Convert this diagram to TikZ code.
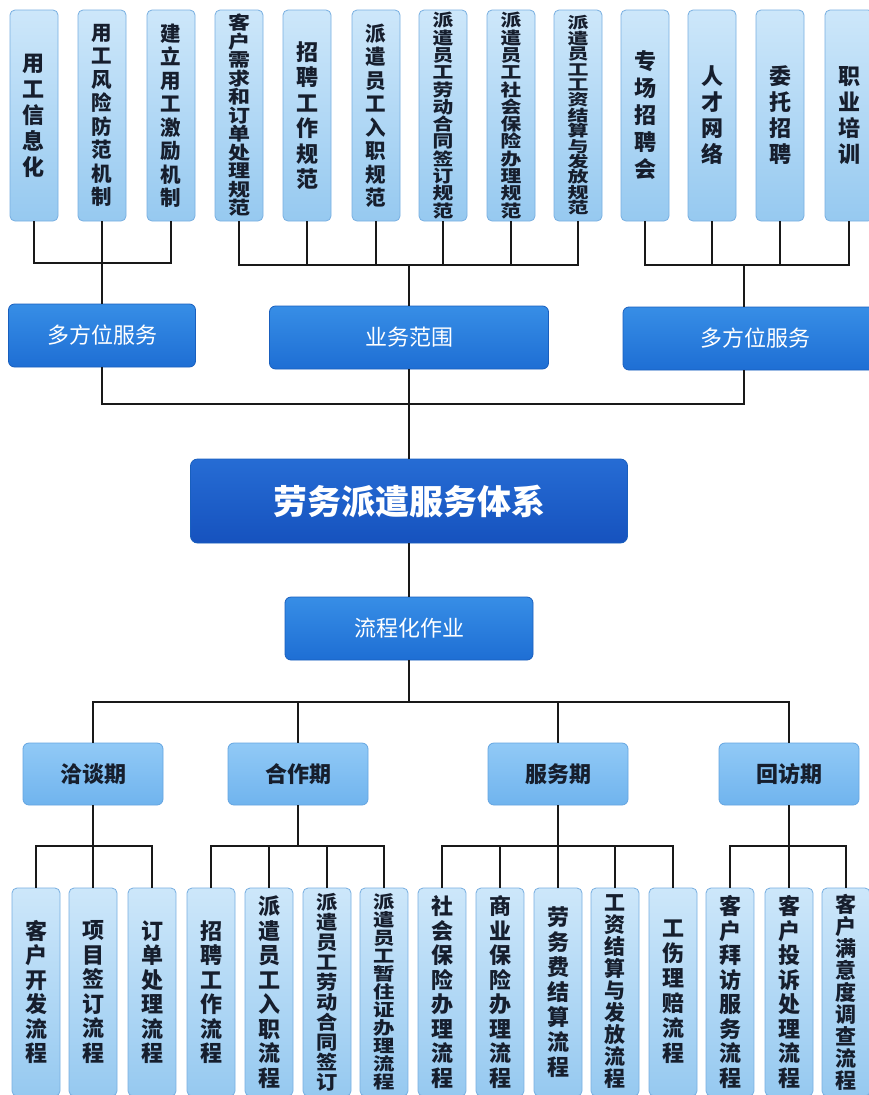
\documentclass[tikz,border=0pt]{standalone}
\usepackage{fontspec}
\setmainfont{Noto Sans CJK SC}
\newfontfamily\wcjkA[FakeStretch=1.12]{Noto Sans CJK SC}
\newfontfamily\wcjkB[FakeStretch=1.22]{Noto Sans CJK SC}
\newfontfamily\wcjkC[FakeStretch=1.35]{Noto Sans CJK SC}
\newcommand\vfs[2]{\bfseries\fontsize{#1}{#2}\selectfont}
\newcommand\wfs[3]{#1\bfseries\fontsize{#2}{#3}\selectfont}
\newcommand\rfs[2]{\fontsize{#1}{#2}\selectfont}
\definecolor{vtop}{RGB}{205,231,250}
\definecolor{vbot}{RGB}{150,201,240}
\definecolor{vborder}{RGB}{120,175,225}
\definecolor{vtext}{RGB}{22,30,45}
\definecolor{midtop}{RGB}{55,142,230}
\definecolor{midbot}{RGB}{30,110,212}
\definecolor{middraw}{RGB}{25,95,190}
\definecolor{maintop}{RGB}{38,108,212}
\definecolor{mainbot}{RGB}{22,82,190}
\definecolor{phtop}{RGB}{145,201,246}
\definecolor{phbot}{RGB}{112,180,238}
\definecolor{phdraw}{RGB}{100,165,225}
\definecolor{linec}{RGB}{25,25,25}
\tikzset{
  vbox/.style={draw=vborder, line width=0.8pt, rounded corners=5pt, top color=vtop, bottom color=vbot,
    minimum width=48pt, inner sep=0pt, align=center, text=vtext},
  topbox/.style={vbox, minimum height=211pt},
  botbox/.style={vbox, minimum height=208pt},
  midbox/.style={draw=middraw, line width=0.8pt, rounded corners=6pt, top color=midtop, bottom color=midbot,
    minimum height=63pt, inner sep=0pt, text=white, font=\rfs{22}{26}},
  mainbox/.style={draw=middraw, line width=0.8pt, rounded corners=7pt, top color=maintop, bottom color=mainbot,
    minimum height=84pt, minimum width=437pt, inner sep=0pt, text=white, font=\vfs{34}{40}},
  phbox/.style={draw=phdraw, line width=0.8pt, rounded corners=6pt, top color=phtop, bottom color=phbot,
    minimum height=62pt, minimum width=140pt, inner sep=0pt, text=vtext, font=\vfs{22}{26}},
  conn/.style={draw=linec, line width=1.8pt}
}
\begin{document}
\begin{tikzpicture}[x=1pt,y=-1pt]
\useasboundingbox (0,0) rectangle (869,1095);
\fill[white] (0,0) rectangle (869,1095);
\clip (0,0) rectangle (869,1095);
% top row
\node[topbox, font=\vfs{22}{26}] (t1) at (34,115.5) {用\\工\\信\\息\\化};
\node[topbox, font=\vfs{20.5}{23.5}] (t2) at (102,115.5) {用\\工\\风\\险\\防\\范\\机\\制};
\node[topbox, font=\vfs{20.5}{23.5}] (t3) at (171,115.5) {建\\立\\用\\工\\激\\励\\机\\制};
\node[topbox, font=\wfs{\wcjkB}{18}{18.5}] (t4) at (239,115.5) {客\\户\\需\\求\\和\\订\\单\\处\\理\\规\\范};
\node[topbox, font=\vfs{22}{25.5}] (t5) at (307,115.5) {招\\聘\\工\\作\\规\\范};
\node[topbox, font=\vfs{20.5}{23.5}] (t6) at (376,115.5) {派\\遣\\员\\工\\入\\职\\规\\范};
\node[topbox, font=\wfs{\wcjkB}{17}{17.3}] (t7) at (443,115.5) {派\\遣\\员\\工\\劳\\动\\合\\同\\签\\订\\规\\范};
\node[topbox, font=\wfs{\wcjkB}{17}{17.3}] (t8) at (511,115.5) {派\\遣\\员\\工\\社\\会\\保\\险\\办\\理\\规\\范};
\node[topbox, font=\wfs{\wcjkC}{15.5}{15.4}] (t9) at (578,115.5) {派\\遣\\员\\工\\工\\资\\结\\算\\与\\发\\放\\规\\范};
\node[topbox, font=\vfs{22}{27}] (t10) at (645,115.5) {专\\场\\招\\聘\\会};
\node[topbox, font=\vfs{22}{26}] (t11) at (712,115.5) {人\\才\\网\\络};
\node[topbox, font=\vfs{22}{26}] (t12) at (780,115.5) {委\\托\\招\\聘};
\node[topbox, font=\vfs{22}{26}] (t13) at (849,115.5) {职\\业\\培\\训};
% middle
\node[midbox, minimum width=187pt] (m1) at (102,335.5) {多方位服务};
\node[midbox, minimum width=279pt] (m2) at (409,337.5) {业务范围};
\node[midbox, minimum width=264pt] (m3) at (755,338.5) {多方位服务};
\node[mainbox] (main) at (409,501) {劳务派遣服务体系};
\node[midbox, minimum width=248pt] (flow) at (409,628.5) {流程化作业};
% phases
\node[phbox] (p1) at (93,774) {洽谈期};
\node[phbox] (p2) at (298,774) {合作期};
\node[phbox] (p3) at (558,774) {服务期};
\node[phbox] (p4) at (789,774) {回访期};
% bottom row
\node[botbox, font=\vfs{22}{24.5}] (b1) at (36,992) {客\\户\\开\\发\\流\\程};
\node[botbox, font=\vfs{22}{24.5}] (b2) at (93,992) {项\\目\\签\\订\\流\\程};
\node[botbox, font=\vfs{22}{24.5}] (b3) at (152,992) {订\\单\\处\\理\\流\\程};
\node[botbox, font=\vfs{22}{24.5}] (b4) at (211,992) {招\\聘\\工\\作\\流\\程};
\node[botbox, font=\vfs{22}{24.5}] (b5) at (269,992) {派\\遣\\员\\工\\入\\职\\流\\程};
\node[botbox, font=\wfs{\wcjkA}{19}{20}] (b6) at (327,992) {派\\遣\\员\\工\\劳\\动\\合\\同\\签\\订};
\node[botbox, font=\wfs{\wcjkB}{17.5}{18}] (b7) at (384,992) {派\\遣\\员\\工\\暂\\住\\证\\办\\理\\流\\程};
\node[botbox, font=\vfs{22}{24.5}] (b8) at (442,992) {社\\会\\保\\险\\办\\理\\流\\程};
\node[botbox, font=\vfs{22}{24.5}] (b9) at (500,992) {商\\业\\保\\险\\办\\理\\流\\程};
\node[botbox, font=\vfs{22}{25}] (b10) at (558,992) {劳\\务\\费\\结\\算\\流\\程};
\node[botbox, font=\vfs{21}{22}] (b11) at (615,992) {工\\资\\结\\算\\与\\发\\放\\流\\程};
\node[botbox, font=\vfs{22}{25}] (b12) at (673,992) {工\\伤\\理\\赔\\流\\程};
\node[botbox, font=\vfs{22}{24.5}] (b13) at (730,992) {客\\户\\拜\\访\\服\\务\\流\\程};
\node[botbox, font=\vfs{22}{24.5}] (b14) at (789,992) {客\\户\\投\\诉\\处\\理\\流\\程};
\node[botbox, font=\vfs{21}{22}] (b15) at (846,992) {客\\户\\满\\意\\度\\调\\查\\流\\程};
% junction points
\coordinate (g1) at (102,263);
\coordinate (g2) at (409,265);
\coordinate (g3) at (744,265);
\coordinate (g4) at (409,404);
\coordinate (g5) at (409,702);
\coordinate (h1) at (93,846);
\coordinate (h2) at (298,846);
\coordinate (h3) at (558,846);
\coordinate (h4) at (789,846);
% top connectors
\draw[conn] (t1.south) |- (g1) -| (t3.south);
\draw[conn] (t2.south) -- (g1) -- (m1.north);
\draw[conn] (t4.south) |- (g2) -| (t9.south);
\foreach \n in {t5,t6,t7,t8} \draw[conn] (\n.south) -- (\n.south |- g2);
\draw[conn] (g2) -- (m2.north);
\draw[conn] (t10.south) |- (g3) -| (t13.south);
\foreach \n in {t11,t12} \draw[conn] (\n.south) -- (\n.south |- g3);
\draw[conn] (g3) -- (g3 |- m3.north);
% middle connectors
\draw[conn] (m1.south) |- (g4) -| (m3.south -| g3);
\draw[conn] (m2.south) -- (main.north);
\draw[conn] (main.south) -- (flow.north);
\draw[conn] (flow.south) -- (g5);
\draw[conn] (p1.north) |- (g5) -| (p4.north);
\foreach \n in {p2,p3} \draw[conn] (\n.north) -- (\n.north |- g5);
% bottom connectors
\draw[conn] (p1.south) -- (h1);
\draw[conn] (b1.north) |- (h1) -| (b3.north);
\draw[conn] (b2.north) -- (h1);
\draw[conn] (p2.south) -- (h2);
\draw[conn] (b4.north) |- (h2) -| (b7.north);
\foreach \n in {b5,b6} \draw[conn] (\n.north) -- (\n.north |- h2);
\draw[conn] (p3.south) -- (h3);
\draw[conn] (b8.north) |- (h3) -| (b12.north);
\foreach \n in {b9,b10,b11} \draw[conn] (\n.north) -- (\n.north |- h3);
\draw[conn] (p4.south) -- (h4);
\draw[conn] (b13.north) |- (h4) -| (b15.north);
\draw[conn] (b14.north) -- (h4);
\end{tikzpicture}
\end{document}
